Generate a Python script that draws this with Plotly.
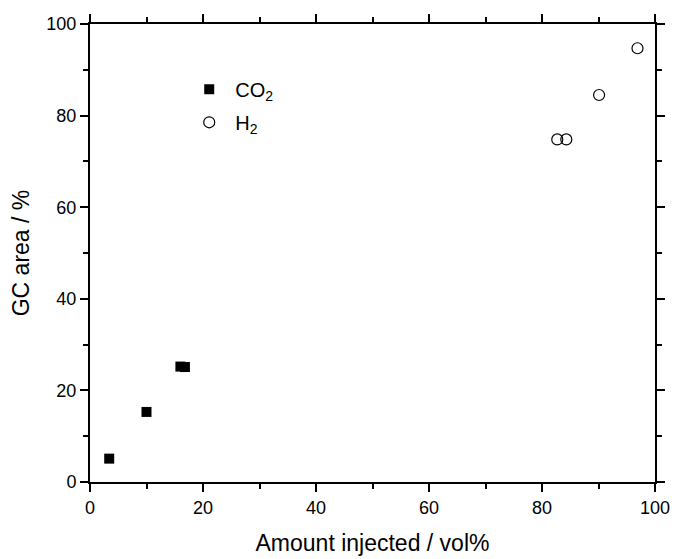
import plotly.graph_objects as go

co2_x = [3.4, 10.0, 16.0, 16.8]
co2_y = [5.1, 15.3, 25.2, 25.1]
h2_x = [82.7, 84.3, 90.1, 96.9]
h2_y = [74.8, 74.8, 84.5, 94.7]

FONT = "Liberation Sans, Arial"

fig = go.Figure()
fig.add_trace(go.Scatter(x=co2_x, y=co2_y, mode="markers", name="CO<sub>2</sub>", legendgroup="a",
                         marker=dict(symbol="square", size=10, color="black")))
fig.add_trace(go.Scatter(x=h2_x, y=h2_y, mode="markers", name="H<sub>2</sub>", legendgroup="b",
                         marker=dict(symbol="circle-open", size=11, color="black", line=dict(width=1.2))))

axis_common = dict(showline=True, linecolor="black", linewidth=2, mirror="ticks",
                   ticks="outside", ticklen=8, tickwidth=2, tickcolor="black",
                   showgrid=False, zeroline=False, range=[0, 100], dtick=20,
                   minor=dict(dtick=10, ticks="outside", ticklen=5, tickwidth=2, tickcolor="black"),
                   tickfont=dict(family=FONT, size=18, color="black"))

fig.update_xaxes(**axis_common, automargin=False,
                 title=dict(text="Amount injected / vol%", font=dict(family=FONT, size=23, color="black"), standoff=18))
fig.update_yaxes(**axis_common, automargin=False,
                 title=dict(text="GC area / %", font=dict(family=FONT, size=23, color="black"), standoff=10))

fig.update_layout(width=676, height=559, margin=dict(l=90, r=21, t=24, b=77),
                  plot_bgcolor="white", paper_bgcolor="white",
                  legend=dict(x=0.165, y=0.90, xanchor="left", yanchor="top", bgcolor="rgba(0,0,0,0)",
                              traceorder="grouped", tracegroupgap=4, itemwidth=42,
                              font=dict(family=FONT, size=20, color="black")),
                  showlegend=True)
fig.write_html("out.html")
